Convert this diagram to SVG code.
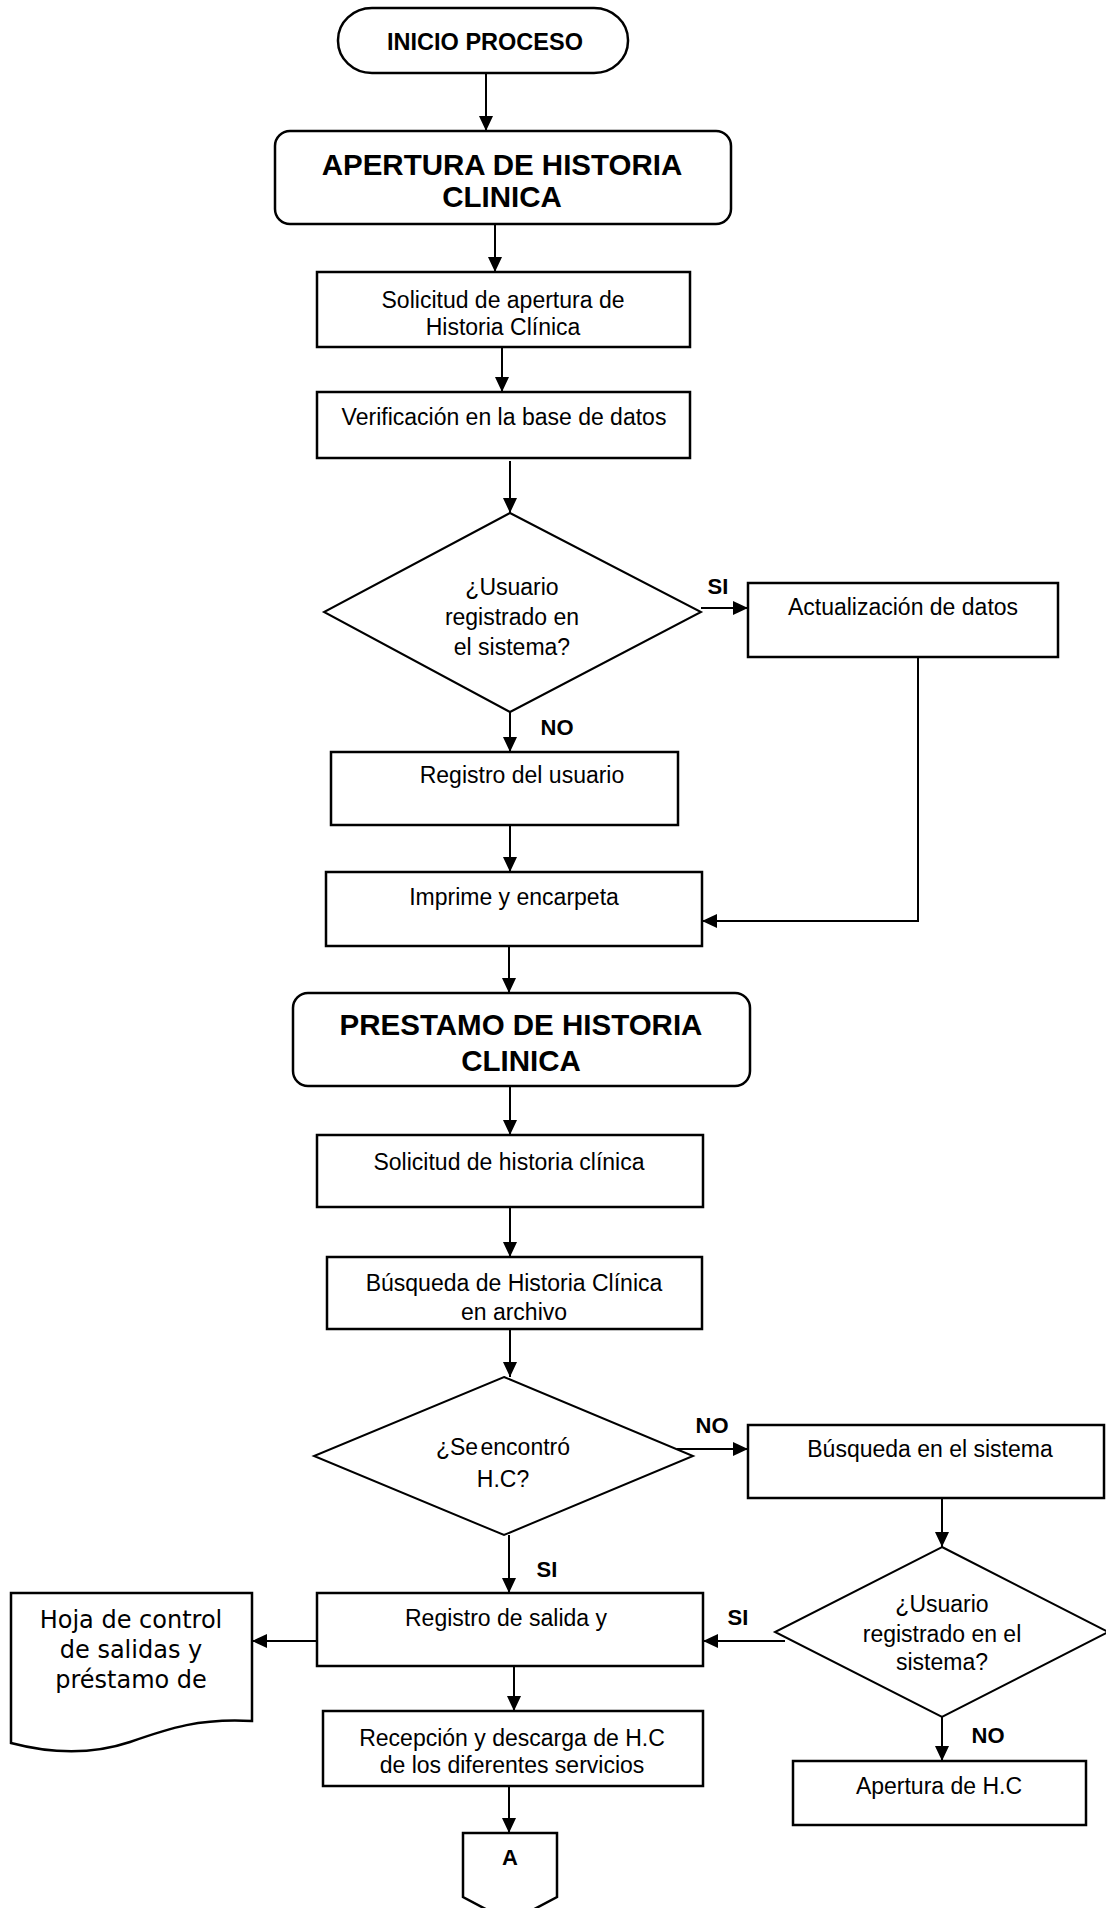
<svg xmlns="http://www.w3.org/2000/svg" width="1106" height="1908" viewBox="0 0 1106 1908">
<defs>
<marker id="ah" markerUnits="userSpaceOnUse" markerWidth="16" markerHeight="16" refX="15" refY="7" orient="auto"><path d="M0,0 L15,7 L0,14 z" fill="#000"/></marker>
</defs>
<style>
.box{fill:#fff;stroke:#000;stroke-width:2.5}
.dia{fill:#fff;stroke:#000;stroke-width:2}
.t{font-family:"Liberation Sans",Arial,sans-serif;font-size:23px;text-anchor:middle;fill:#000}
.h{font-family:"Liberation Sans",Arial,sans-serif;font-size:29.5px;font-weight:bold;text-anchor:middle;fill:#000}
.lbl{font-family:"Liberation Sans",Arial,sans-serif;font-size:22px;font-weight:bold;text-anchor:middle;fill:#000}
.doc{font-family:"DejaVu Sans",Verdana,sans-serif;font-size:24px;text-anchor:middle;fill:#000}
.c line,.c polyline{stroke:#000;stroke-width:2;fill:none;marker-end:url(#ah)}
</style>
<rect width="1106" height="1908" fill="#fff"/>
<g class="c" id="connectors">
<line x1="486" y1="73" x2="486" y2="131"/>
<line x1="495" y1="224" x2="495" y2="272"/>
<line x1="502" y1="347" x2="502" y2="392"/>
<line x1="510" y1="461" x2="510" y2="513"/>
<line x1="701" y1="608" x2="748" y2="608"/>
<line x1="510" y1="705" x2="510" y2="752"/>
<polyline points="918,657 918,921 702,921"/>
<line x1="510" y1="825" x2="510" y2="872"/>
<line x1="509" y1="946" x2="509" y2="993"/>
<line x1="510" y1="1086" x2="510" y2="1135"/>
<line x1="510" y1="1207" x2="510" y2="1257"/>
<line x1="510" y1="1329" x2="510" y2="1377"/>
<line x1="677" y1="1449" x2="748" y2="1449"/>
<line x1="942" y1="1498" x2="942" y2="1547"/>
<line x1="509" y1="1535" x2="509" y2="1593"/>
<line x1="785" y1="1641" x2="703" y2="1641"/>
<line x1="317" y1="1641" x2="252" y2="1641"/>
<line x1="942" y1="1717" x2="942" y2="1761"/>
<line x1="514" y1="1666" x2="514" y2="1711"/>
<line x1="509" y1="1786" x2="509" y2="1833"/>
</g>
<g id="labels">
<text class="lbl" x="718" y="594">SI</text>
<text class="lbl" x="557" y="735">NO</text>
<text class="lbl" x="712" y="1433">NO</text>
<text class="lbl" x="547" y="1577">SI</text>
<text class="lbl" x="738" y="1625">SI</text>
<text class="lbl" x="988" y="1743">NO</text>
</g>
<g id="n1"><rect class="box" x="338" y="8" width="290" height="65" rx="34" ry="32"/><text class="t" x="485" y="50" style="font-weight:bold;font-size:23.5px">INICIO PROCESO</text></g>
<g id="n2"><rect class="box" x="275" y="131" width="456" height="93" rx="15"/><text class="h" x="502" y="175">APERTURA DE HISTORIA</text><text class="h" x="502" y="207">CLINICA</text></g>
<g id="n3"><rect class="box" x="317" y="272" width="373" height="75"/><text class="t" x="503" y="308">Solicitud de apertura de</text><text class="t" x="503" y="335">Historia Clínica</text></g>
<g id="n4"><rect class="box" x="317" y="392" width="373" height="66"/><text class="t" x="504" y="425">Verificación en la base de datos</text></g>
<g id="n5"><polygon class="dia" points="510,513 701,612 510,712 324,612"/><text class="t" x="512" y="595">¿Usuario</text><text class="t" x="512" y="625">registrado en</text><text class="t" x="512" y="655">el sistema?</text></g>
<g id="n6"><rect class="box" x="748" y="583" width="310" height="74"/><text class="t" x="903" y="615">Actualización de datos</text></g>
<g id="n7"><rect class="box" x="331" y="752" width="347" height="73"/><text class="t" x="522" y="783">Registro del usuario</text></g>
<g id="n8"><rect class="box" x="326" y="872" width="376" height="74"/><text class="t" x="514" y="905">Imprime y encarpeta</text></g>
<g id="n9"><rect class="box" x="293" y="993" width="457" height="93" rx="15"/><text class="h" x="521" y="1035">PRESTAMO DE HISTORIA</text><text class="h" x="521" y="1071">CLINICA</text></g>
<g id="n10"><rect class="box" x="317" y="1135" width="386" height="72"/><text class="t" x="509" y="1170">Solicitud de historia clínica</text></g>
<g id="n11"><rect class="box" x="327" y="1257" width="375" height="72"/><text class="t" x="514" y="1291">Búsqueda de Historia Clínica</text><text class="t" x="514" y="1320">en archivo</text></g>
<g id="n12"><polygon class="dia" points="504,1377 693,1456 504,1535 314,1456"/><text class="t" x="503" y="1455" word-spacing="-4">¿Se encontró</text><text class="t" x="503" y="1487">H.C?</text></g>
<g id="n13"><rect class="box" x="748" y="1425" width="356" height="73"/><text class="t" x="930" y="1457">Búsqueda en el sistema</text></g>
<g id="n14"><polygon class="dia" points="942,1547 1108,1632 942,1717 775,1632"/><text class="t" x="942" y="1612">¿Usuario</text><text class="t" x="942" y="1642">registrado en el</text><text class="t" x="942" y="1670">sistema?</text></g>
<g id="n15"><rect class="box" x="317" y="1593" width="386" height="73"/><text class="t" x="506" y="1626">Registro de salida y</text></g>
<g id="n16"><path class="box" d="M11,1593 H252 V1721 C200,1718 170,1728 130,1742 C100,1752 60,1756 11,1743 Z"/><text class="doc" x="131" y="1628">Hoja de control</text><text class="doc" x="131" y="1658">de salidas y</text><text class="doc" x="131" y="1688">préstamo de</text></g>
<g id="n17"><rect class="box" x="323" y="1711" width="380" height="75"/><text class="t" x="512" y="1746">Recepción y descarga de H.C</text><text class="t" x="512" y="1773">de los diferentes servicios</text></g>
<g id="n18"><path class="box" d="M463,1833 H557 V1897 L510,1922 L463,1897 Z"/><text class="lbl" x="510" y="1865">A</text></g>
<g id="n19"><rect class="box" x="793" y="1761" width="293" height="64"/><text class="t" x="939" y="1794">Apertura de H.C</text></g>
</svg>
